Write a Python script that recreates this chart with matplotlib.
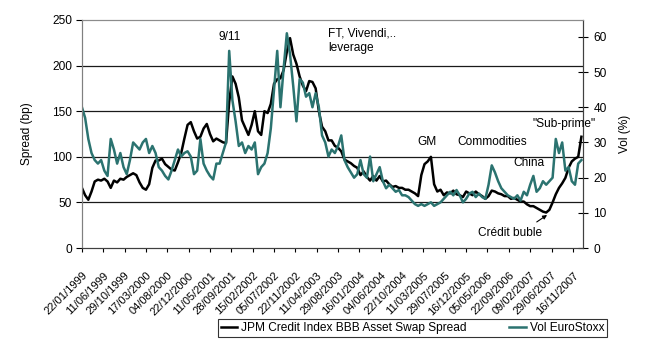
import matplotlib
matplotlib.use("Agg")
import matplotlib.pyplot as plt
import matplotlib.transforms as mtransforms
import pandas as pd

plt.rcParams['font.family'] = ['Liberation Sans', 'DejaVu Sans']

# values, one point every 3 weeks from 22/01/1999
spread_bp = [66, 58, 53, 62, 73, 75, 74, 76, 73, 66, 74, 72, 76, 75, 78, 80, 82, 80, 72, 66,
             64, 70, 88, 96, 96, 98, 92, 89, 86, 85, 94, 104, 120, 135, 138, 128, 120, 122, 131, 136,
             125, 117, 120, 118, 116, 115, 160, 188, 180, 165, 140, 132, 124, 135, 150, 128, 124, 150, 148, 158,
             180, 185, 186, 195, 215, 230, 212, 202, 188, 178, 172, 183, 182, 175, 150, 133, 128, 118,
             118, 112, 110, 106, 97, 95, 93, 90, 88, 80, 84, 78, 74, 79, 74, 79, 73, 74, 70, 67,
             68, 66, 66, 64, 64, 62, 60, 57, 80, 92, 95, 100, 70, 62, 64, 58, 61, 60, 63,
             59, 58, 56, 62, 60, 58, 62, 59, 57, 54, 57, 63, 62, 60, 59, 57, 57, 54, 55, 53,
             51, 51, 48, 46, 46, 44, 42, 40, 39, 42, 50, 59, 66, 71, 77, 88, 95, 98, 100, 122]

vol_eurostoxx = [40, 37, 31, 27, 25, 24, 25, 22, 20.5, 31, 28, 24, 27, 23, 21, 25, 30, 29, 28, 30,
                 31, 27, 29, 27, 23, 22, 20.5, 19.5, 22, 25, 28, 26, 27, 27.5, 26, 21, 22, 31, 24, 22,
                 20.5, 19.5, 24, 24, 27, 30, 56, 42, 36, 29, 30, 27, 29, 28, 30, 21, 23, 24, 27, 34,
                 45, 56, 40, 51, 61, 55, 46, 36, 48, 47, 43, 44, 40, 44, 40, 32, 30, 26,
                 28, 27, 29, 32, 25, 23, 21.5, 20, 21, 25, 21, 20, 26, 19, 21, 23, 19, 17, 18, 17,
                 16, 16.5, 15, 15, 14.5, 13.5, 12.5, 12, 12.5, 12, 12.5, 13, 12, 12.5, 13, 14, 15, 16, 15,
                 16.5, 15, 13, 14, 15.5, 16, 14.5, 15.5, 14.5, 14, 18, 23.5, 21.5, 19, 17, 16, 15, 14.5, 14, 15,
                 13.5, 16, 15, 18, 20.5, 16, 17, 19, 18, 19, 20, 31, 27, 30, 22, 23, 19, 18, 24, 25]

tick_labels = ['22/01/1999', '11/06/1999', '29/10/1999', '17/03/2000', '04/08/2000', '22/12/2000',
               '11/05/2001', '28/09/2001', '15/02/2002', '05/07/2002', '22/11/2002', '11/04/2003',
               '29/08/2003', '16/01/2004', '04/06/2004', '22/10/2004', '11/03/2005', '29/07/2005',
               '16/12/2005', '05/05/2006', '22/09/2006', '09/02/2007', '29/06/2007', '16/11/2007']

dates = pd.date_range('1999-01-22', periods=len(spread_bp), freq='21D')
tick_dates = pd.to_datetime(tick_labels, format='%d/%m/%Y')

black = '#000000'
teal = '#2B7370'
fs = 8.6

fig = plt.figure(figsize=(6.45, 3.55), dpi=100)
ax = fig.add_axes([0.127, 0.301, 0.777, 0.643])
ax2 = ax.twinx()

for y in [50, 100, 150, 200]:
    ax.axhline(y, color='#1a1a1a', lw=0.9, zorder=0)

l1, = ax.plot(dates, spread_bp, color=black, lw=1.8, zorder=2)
l2, = ax2.plot(dates, vol_eurostoxx, color=teal, lw=1.8, zorder=2)

ax.set_ylim(0, 250)
ax.set_yticks(range(0, 251, 50))
ax2.set_ylim(0, 64.8)
ax2.set_yticks(range(0, 61, 10))
ax.set_xlim(pd.Timestamp('1999-01-22'), pd.Timestamp('1999-01-22') + pd.Timedelta(days=3287))

ax.set_xticks(tick_dates)
ax.set_xticklabels(tick_labels, rotation=45, ha='right', rotation_mode='anchor', fontsize=8)
# shift the slanted labels down-left like the original
shift = mtransforms.ScaledTranslation(-0.17, 0, fig.dpi_scale_trans)
for lab in ax.get_xticklabels():
    lab.set_transform(lab.get_transform() + shift)
ax.tick_params(axis='x', direction='out', length=3, pad=13)
ax.tick_params(axis='y', direction='out', length=4, labelsize=fs, pad=3)
ax2.tick_params(axis='y', direction='inout', length=7, labelsize=fs, pad=4)

ax.set_ylabel('Spread (bp)', fontsize=fs, labelpad=14)
ax2.set_ylabel('Vol (%)', fontsize=fs, labelpad=9)

for a in (ax, ax2):
    a.spines['top'].set_color('#8c8c8c')
    a.spines['left'].set_color('#808080')
    a.spines['right'].set_color('#404040')
    a.spines['bottom'].set_color('#404040')

def wk(n):
    return pd.Timestamp('1999-01-22') + pd.Timedelta(weeks=n)

ax2.text(wk(138), 231 * 64.8 / 250, '9/11', fontsize=fs, ha='center', va='center')
ax.text(wk(231), 242, 'FT, Vivendi,..\nleverage', fontsize=fs, ha='left', va='top', linespacing=1.35)
ax.text(wk(323), 116, 'GM', fontsize=fs, ha='center', va='center')
ax.text(wk(352), 116, 'Commodities', fontsize=fs, ha='left', va='center')
ax.text(wk(404), 93, 'China', fontsize=fs, ha='left', va='center')
ax2.text(wk(422.5), 136 * 64.8 / 250, '"Sub-prime"', fontsize=fs, ha='left', va='center')
ax.text(wk(371), 16.5, 'Crédit buble', fontsize=fs, ha='left', va='center')
ax.annotate('', xy=(wk(438), 38), xytext=(wk(424), 27),
            arrowprops=dict(arrowstyle='-|>', color=black, lw=0.8, mutation_scale=6))

leg = fig.legend([l1, l2], ['JPM Credit Index BBB Asset Swap Spread', 'Vol EuroStoxx'],
                 loc='center', bbox_to_anchor=(412.5 / 645, 1 - 328 / 355), ncol=2, fontsize=fs,
                 frameon=True, fancybox=False, handlelength=1.35, handletextpad=0.35,
                 columnspacing=3.6, borderpad=0.25, borderaxespad=0)
leg.get_frame().set_edgecolor('black')
leg.get_frame().set_linewidth(0.8)

fig.savefig('out.png', dpi=100)
